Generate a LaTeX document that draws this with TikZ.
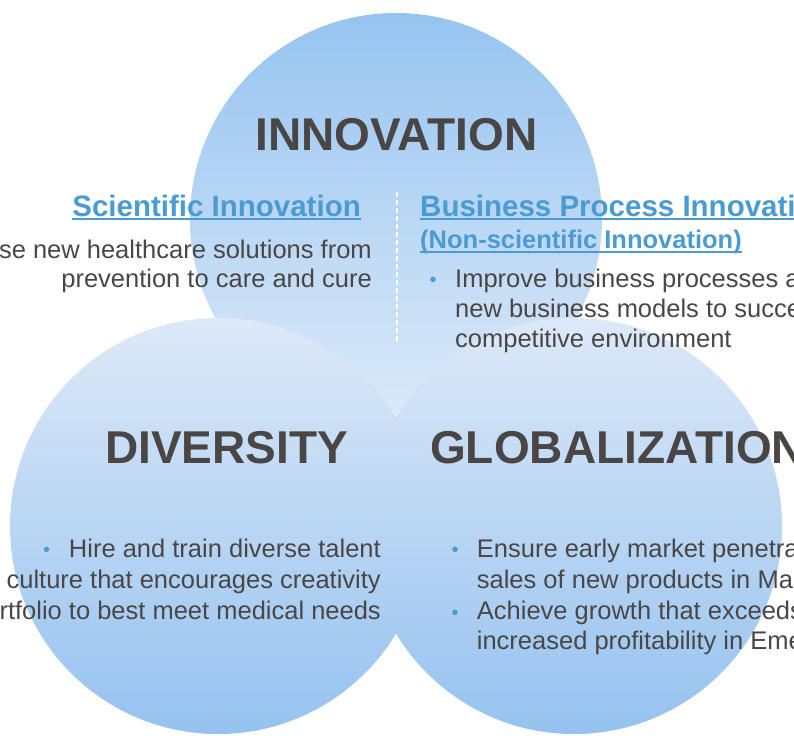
\documentclass[tikz,border=0pt]{standalone}
\usepackage{fontspec}
\setmainfont{Liberation Sans}
\definecolor{inkgray}{HTML}{4A4646}
\definecolor{linkblue}{HTML}{4A9BD3}
\definecolor{topA}{HTML}{96C4F0}
\definecolor{topB}{HTML}{DDEAF9}
\definecolor{lowA}{HTML}{DDE9F8}
\definecolor{lowB}{HTML}{95C2EF}
\begin{document}
\begin{tikzpicture}[x=1pt,y=-1pt,
  heading/.style={font=\fontsize{46}{46}\selectfont\bfseries, text=inkgray, inner sep=0pt},
  subhead/.style={font=\fontsize{29.5}{29.5}\selectfont\bfseries, text=linkblue, inner sep=0pt},
  subsmall/.style={font=\fontsize{25.5}{25.5}\selectfont\bfseries, text=linkblue, inner sep=0pt},
  body/.style={font=\fontsize{25.5}{25.5}\selectfont, text=inkgray, inner sep=0pt},
  dot/.style={font=\fontsize{20}{20}\selectfont, text=linkblue, inner sep=0pt, anchor=base},
  uline/.style={draw=linkblue, line width=2pt},
  divider/.style={draw=white, line width=1.5pt, dash pattern=on 5pt off 3pt},
]
\useasboundingbox (0,0) rectangle (794,742);
\clip (0,0) rectangle (794,742);

% three overlapping circles
\shade[top color=topA, bottom color=topB] (396,219) circle (206pt);
\shade[top color=lowA, bottom color=lowB] (218,526) circle (208pt);
\shade[top color=lowA, bottom color=lowB] (574,526) circle (208pt);

% headings
\node[heading, anchor=base] (inno) at (396.5,150) {INNOVATION};
\node[heading, anchor=base] (divh) at (226.5,463) {DIVERSITY};
\node[heading, anchor=base west] (glob) at (430,463) {GLOBALIZATION};

% innovation: two columns split by a dashed divider
\coordinate (d1) at (397,192);
\coordinate (d2) at (397,343);
\draw[divider] (d1) -- (d2);

\node[subhead, anchor=base east] (sci) at (361,216) {Scientific Innovation};
\draw[uline] ([yshift=-3pt]sci.base west) -- ([yshift=-3pt]sci.base east);
\node[body, anchor=base east] (s1) at (372,258) {se new healthcare solutions from};
\node[body, anchor=base east] (s2) at (372,287) {prevention to care and cure};

\node[subhead, anchor=base west] (bpi) at (420,216) {Business Process Innovati};
\draw[uline] ([yshift=-3pt]bpi.base west) -- ([yshift=-3pt]bpi.base east);
\node[subsmall, anchor=base west] (nsi) at (420,248) {(Non-scientific Innovation)};
\draw[uline] ([yshift=-3.5pt]nsi.base west) -- ([yshift=-3.5pt]nsi.base east);
\node[dot] (b1) at (433,286) {•};
\node[body, anchor=base west] (p1) at (455,287) {Improve business processes a};
\node[body, anchor=base west] (p2) at (455,317) {new business models to succe};
\node[body, anchor=base west] (p3) at (455,347) {competitive environment};

% diversity
\node[dot] (b2) at (46.7,556) {•};
\node[body, anchor=base east] (v1) at (381,557) {Hire and train diverse talent};
\node[body, anchor=base east] (v2) at (381,588) {culture that encourages creativity};
\node[body, anchor=base east] (v3) at (381,619) {rtfolio to best meet medical needs};

% globalization
\node[dot] (b3) at (455,556) {•};
\node[body, anchor=base west] (g1) at (476.7,557) {Ensure early market penetra};
\node[body, anchor=base west] (g2) at (476.7,588) {sales of new products in Ma};
\node[dot] (b4) at (455,619) {•};
\node[body, anchor=base west] (g3) at (476.7,619) {Achieve growth that exceeds};
\node[body, anchor=base west] (g4) at (476.7,649) {increased profitability in Eme};
\end{tikzpicture}
\end{document}
